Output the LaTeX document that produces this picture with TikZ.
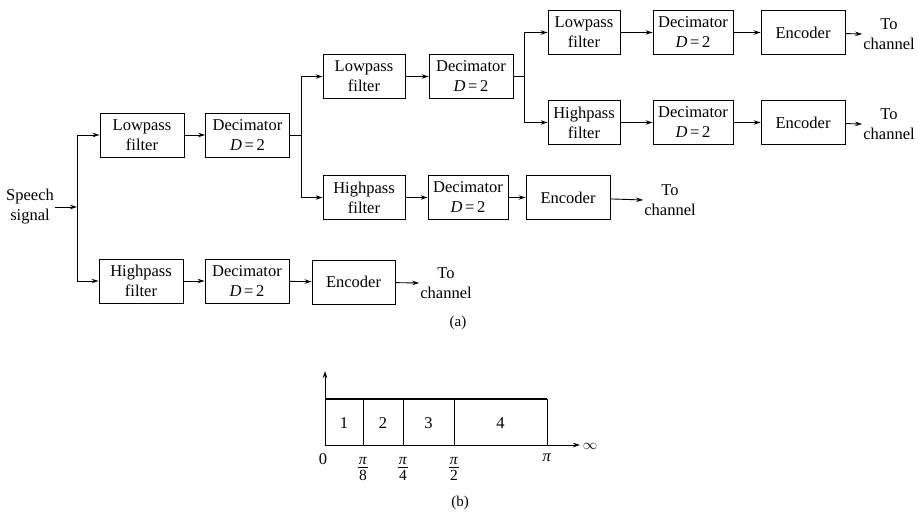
\documentclass[tikz,border=0pt]{standalone}
\usepackage{fontspec}
\setmainfont{Liberation Serif}
\usetikzlibrary{arrows.meta}
\newcommand{\dee}{\textit{D}\,=\,2}
\newcommand{\pifrac}[1]{\vbox{\offinterlineskip\halign{\hfil##\hfil\cr\textit{π}\cr\noalign{\kern2.5pt}\rule{10pt}{0.8pt}\cr\noalign{\kern2.5pt}#1\cr}}}
\begin{document}
\begin{tikzpicture}[x=1pt,y=-1pt,
  blk/.style={draw, line width=0.9pt, minimum width=84pt, minimum height=44pt, inner sep=0pt, align=center, font=\fontsize{16.5}{20}\selectfont},
  lbl/.style={inner sep=1pt, align=center, font=\fontsize{16.5}{20}\selectfont},
  conn/.style={line width=0.9pt},
  arr/.style={conn, -{Stealth[length=7pt,width=4.5pt]}},
  ax/.style={line width=0.9pt}]
\useasboundingbox (0,0) rectangle (919,513);
% level 1
\node[lbl] (sp) at (30,207) {Speech\\signal};
\node[blk] (lp1) at (142,135) {Lowpass\\filter};
\node[blk] (d1) at (247.5,135) {Decimator\\\dee};
\node[blk] (hp1) at (141,281) {Highpass\\filter};
\node[blk] (d1b) at (247,281) {Decimator\\\dee};
\node[blk, minimum width=83pt] (e1b) at (353.5,282) {Encoder};
\node[lbl] (t1b) at (446,283) {To\\channel};
% level 2
\node[blk, minimum width=82pt] (lp2) at (364,76.5) {Lowpass\\filter};
\node[blk] (d2) at (471,76.5) {Decimator\\\dee};
\node[blk, minimum width=82pt] (hp2) at (364,197.5) {Highpass\\filter};
\node[blk, minimum width=80pt] (d2b) at (468,197.5) {Decimator\\\dee};
\node[blk] (e2b) at (568,197.5) {Encoder};
\node[lbl] (t2b) at (670,200) {To\\channel};
% level 3
\node[blk, minimum width=72pt] (lp3) at (584,32.5) {Lowpass\\filter};
\node[blk, minimum width=80pt] (d3) at (693,32.5) {Decimator\\\dee};
\node[blk] (e3) at (803,32.5) {Encoder};
\node[lbl] (t3) at (889,34) {To\\channel};
\node[blk, minimum width=72pt] (hp3) at (584,122.5) {Highpass\\filter};
\node[blk, minimum width=80pt] (d3b) at (693,122.5) {Decimator\\\dee};
\node[blk] (e3b) at (803,122.5) {Encoder};
\node[lbl] (t3b) at (889,124) {To\\channel};
% junctions
\coordinate (j1) at (77,207);
\coordinate (j2) at (301,135);
\coordinate (j3) at (524,76.5);
\draw[arr] (sp.east) -- (j1);
\draw[arr] (j1) |- (lp1.west);
\draw[arr] (j1) |- (hp1.west);
\draw[arr] (lp1) -- (d1);
\draw[arr] (hp1) -- (d1b);
\draw[arr] (d1b) -- (e1b);
\draw[arr] (e1b) -- (t1b.west);
\draw[conn] (d1.east) -- (j2);
\draw[arr] (j2) |- (lp2.west);
\draw[arr] (j2) |- (hp2.west);
\draw[arr] (lp2) -- (d2);
\draw[arr] (hp2) -- (d2b);
\draw[arr] (d2b) -- (e2b);
\draw[arr] (e2b) -- (t2b.west);
\draw[conn] (d2.east) -- (j3);
\draw[arr] (j3) |- (lp3.west);
\draw[arr] (j3) |- (hp3.west);
\draw[arr] (lp3) -- (d3);
\draw[arr] (d3) -- (e3);
\draw[arr] (e3) -- (t3.west);
\draw[arr] (hp3) -- (d3b);
\draw[arr] (d3b) -- (e3b);
\draw[arr] (e3b) -- (t3b.west);
\node[lbl, font=\fontsize{15}{17}\selectfont] (capa) at (458,323) {(a)};
% part (b)
\coordinate (o) at (325,445);
\coordinate (yt) at (325,371);
\coordinate (xt) at (580,445);
\draw[arr] (o) -- (yt);
\draw[arr] (o) -- (xt);
\draw[ax, line width=1.3pt] (325,399) -- (547,399);
\draw[ax] (363,399) -- (363,445);
\draw[ax] (403,399) -- (403,445);
\draw[ax] (454,399) -- (454,445);
\draw[ax] (547,399) -- (547,445);
\node[lbl] (n1) at (344,423) {1};
\node[lbl] (n2) at (383,423) {2};
\node[lbl] (n3) at (428.5,423) {3};
\node[lbl] (n4) at (500.5,423) {4};
\node[lbl] (z) at (323,459) {0};
\node[lbl, font=\fontsize{15.5}{18}\selectfont] (f8) at (363,469) {\pifrac{8}};
\node[lbl, font=\fontsize{15.5}{18}\selectfont] (f4) at (403,469) {\pifrac{4}};
\node[lbl, font=\fontsize{15.5}{18}\selectfont] (f2) at (454,469) {\pifrac{2}};
\node[lbl] (pi) at (547,458) {\textit{π}};
\node[lbl, font=\fontsize{14}{16}\selectfont] (om) at (590,446) {$\infty$};
\node[lbl, font=\fontsize{15}{17}\selectfont] (capb) at (460,503) {(b)};
\end{tikzpicture}
\end{document}
